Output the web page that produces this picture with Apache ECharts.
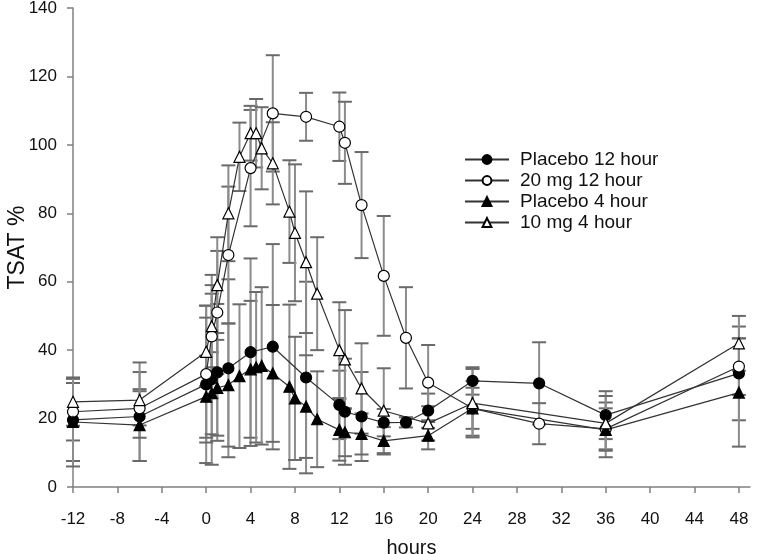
<!DOCTYPE html>
<html>
<head>
<meta charset="utf-8">
<script src="https://cdn.jsdelivr.net/npm/echarts@6/dist/echarts.min.js"></script>
<style>
html,body{margin:0;padding:0;background:#fff;}
#chart{width:760px;height:554px;}
</style>
</head>
<body>
<div id="chart"></div>
<script>
// ---- data ----
const xTicks = [-12,-8,-4,0,4,8,12,16,20,24,28,32,36,40,44,48];
const yTicks = [0,20,40,60,80,100,120,140];

const hours12 = [-12,-6,0,0.5,1,2,4,6,9,12,12.5,14,16,18,20,24,30,36,48];
const placebo12 = [19.6,20.6,30,31.5,33.5,34.7,39.4,41,32,24,22,20.6,18.8,18.9,22.3,31,30.3,21,33.2];
const placebo12Err = [12,13,23,25,20,26,27.4,30,28,10,15.5,13,4,1.5,5,4,12,7,13.7];
const mg20 = [22,23,33,44,51,67.8,93.2,109.2,108.2,105.3,100.6,82.4,61.7,43.6,30.5,23,18.5,17,35.2];
const mg20Err = [8.4,5,20,18,18,20,17,17,7,10,12,15.5,17.5,14.8,11,6,6,6,8.3];

const hours4 = [-12,-6,0,0.5,1,2,3,4,4.5,5,6,7.5,8,9,10,12,12.5,14,16,20,24,36,48];
const placebo4 = [19,18.1,26.4,27.4,29,29.8,32.4,34.4,35,35.4,33.2,29.3,25.9,23.5,19.8,16.7,16,15.5,13.5,15,23,16.7,27.6];
const placebo4Err = [13,10.5,12,12,14,18,21,20,22,23,20,24,18,15,14,9,7,6,4,4,8,8,15.8];
const mg10 = [24.9,25.4,39.5,47,59,80,96.5,103.4,103.4,99,94.6,80.5,74.3,65.7,56.5,40,37.3,28.8,22.3,18.6,24.5,18.6,42];
const mg10Err = [7,11,10,12,14,14,10,8,10,12,12,15,20,20.7,16.5,14,14.4,13.2,12.4,5,10,8,8];

const seriesNames = ['Placebo 12 hour','20 mg 12 hour','Placebo 4 hour','10 mg 4 hour'];

// ---- build ----
const FONT = '"Liberation Sans", Arial, sans-serif';
function pts(xs, ys){ return xs.map((x,i)=>[x, ys[i]]); }
function errPts(xs, ys, es){ return xs.map((x,i)=>[x, ys[i]-es[i], ys[i]+es[i]]); }

function errSeries(xs, ys, es){
  return {
    type:'custom', z:1, silent:true, animation:false,
    data: errPts(xs, ys, es),
    encode:{x:0, y:[1,2]},
    renderItem: function(params, api){
      const x = api.value(0), lo = api.value(1), hi = api.value(2);
      const a = api.coord([x, hi]), b = api.coord([x, lo]);
      const w = 7;
      return {type:'group', children:[
        {type:'line', shape:{x1:a[0],y1:a[1],x2:b[0],y2:b[1]}, style:{stroke:'#8c8c8c', lineWidth:2}},
        {type:'line', shape:{x1:a[0]-w,y1:a[1],x2:a[0]+w,y2:a[1]}, style:{stroke:'#6a6a6a', lineWidth:2}},
        {type:'line', shape:{x1:b[0]-w,y1:b[1],x2:b[0]+w,y2:b[1]}, style:{stroke:'#6a6a6a', lineWidth:2}}
      ]};
    }
  };
}

function lineSeries(name, xs, ys, symbol, filled, z){
  return {
    name:name, type:'line', z:z, animation:false,
    data: pts(xs, ys),
    symbol: symbol, symbolSize: 11,
    showSymbol:true,
    lineStyle:{color:'#333', width:1.2},
    itemStyle:{color: filled ? '#000' : '#fff', borderColor:'#000', borderWidth:1.2}
  };
}

const chart = echarts.init(document.getElementById('chart'), null, {renderer:'canvas'});
chart.setOption({
  backgroundColor:'#fff',
  animation:false,
  textStyle:{fontFamily:FONT},
  grid:{left:73, right:10, top:8, bottom:67, containLabel:false, outerBoundsMode:'none'},
  legend:{
    data: seriesNames,
    orient:'vertical', left:459, top:145,
    itemWidth:44, itemHeight:11, itemGap:2,
    textStyle:{fontFamily:FONT, fontSize:19, color:'#111', padding:[0,0,0,6]}
  },
  xAxis:{
    type:'value', min:-12, max:49,
    name:'hours', nameLocation:'middle', nameGap:51, nameMoveOverlap:false,
    nameTextStyle:{fontFamily:FONT, fontSize:20, color:'#111'},
    splitLine:{show:false},
    axisLine:{show:true, onZero:false, lineStyle:{color:'#808080', width:1.5}},
    axisTick:{show:true, length:6, inside:false, lineStyle:{color:'#808080', width:1.5}, customValues:xTicks},
    axisLabel:{color:'#111', fontSize:17, margin:24, fontFamily:FONT, customValues:xTicks}
  },
  yAxis:{
    type:'value', min:0, max:140, interval:20,
    name:'TSAT %', nameLocation:'middle', nameGap:44, nameMoveOverlap:false,
    nameTextStyle:{fontFamily:FONT, fontSize:23, color:'#111'},
    splitLine:{show:false},
    axisLine:{show:true, onZero:false, lineStyle:{color:'#808080', width:1.5}},
    axisTick:{show:true, length:6, lineStyle:{color:'#808080', width:1.5}},
    axisLabel:{color:'#111', fontSize:17, margin:16, fontFamily:FONT}
  },
  series:[
    errSeries(hours12, placebo12, placebo12Err),
    errSeries(hours12, mg20, mg20Err),
    errSeries(hours4, placebo4, placebo4Err),
    errSeries(hours4, mg10, mg10Err),
    lineSeries(seriesNames[0], hours12, placebo12, 'circle', true, 5),
    lineSeries(seriesNames[1], hours12, mg20, 'circle', false, 5),
    lineSeries(seriesNames[2], hours4, placebo4, 'triangle', true, 5),
    lineSeries(seriesNames[3], hours4, mg10, 'triangle', false, 5)
  ]
});
</script>
</body>
</html>
